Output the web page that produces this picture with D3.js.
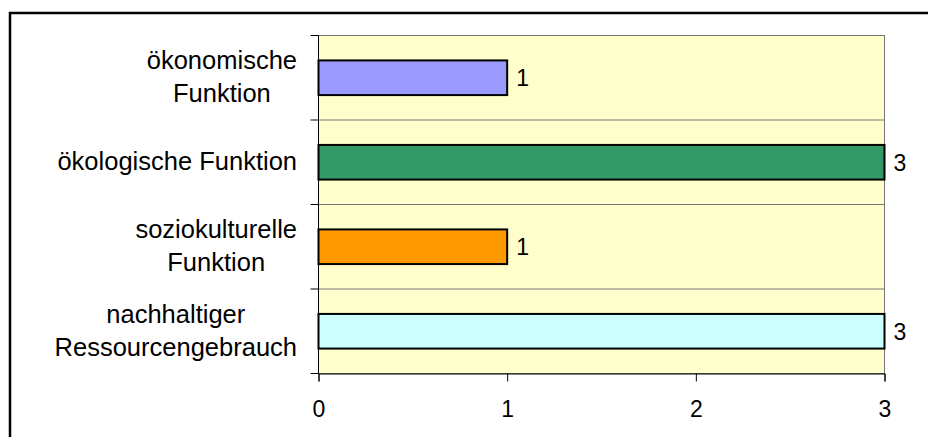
<!DOCTYPE html>
<html>
<head>
<meta charset="utf-8">
<script src="https://cdn.jsdelivr.net/npm/d3@7"></script>
<style>
	body { margin:0; background:#fff; }
	text { font-family:"Liberation Sans", Arial, sans-serif; fill:#000; }
</style>
</head>
<body>
<svg id="chart" width="928" height="437"></svg>
<script>
// categories top to bottom, each label split in lines
let categories = ['ökonomische Funktion', 'ökologische Funktion', 'soziokulturelle Funktion', 'nachhaltiger Ressourcengebrauch'];
let labelLines = [['ökonomische', 'Funktion'], ['ökologische Funktion'], ['soziokulturelle', 'Funktion'], ['nachhaltiger', 'Ressourcengebrauch']];
let values = [1, 3, 1, 3];
let barColors = ['#9999FF', '#339966', '#FF9900', '#CCFFFF'];
let xTicks = [0, 1, 2, 3];

let svg = d3.select('#chart');
let plot = {left:318.5, right:884.5, top:35.5, bottom:373.5};
let fontSize = 25.5;

//outer frame (runs past the bottom and right edges)
svg.append('rect')
	.attr('x', 10).attr('y', 13)
	.attr('width', 940).attr('height', 450)
	.style('fill', 'none')
	.style('stroke', 'black')
	.style('stroke-width', 2.5);

let x = d3.scaleLinear().domain([0, 3]).range([plot.left, plot.right]);
let y = d3.scaleBand().domain(categories).range([plot.top, plot.bottom])
	.paddingInner(0.59).paddingOuter(0.295);
let step = y.step();
let bandTop = (c) => y(c) - step*y.paddingInner()/2;

//plot background
svg.append('rect')
	.attr('x', plot.left).attr('y', plot.top)
	.attr('width', plot.right-plot.left).attr('height', plot.bottom-plot.top)
	.style('fill', '#FFFFCC')
	.style('stroke', '#777')
	.style('stroke-width', 1);

//horizontal separators between categories + left ticks
let seps = categories.map(bandTop).concat([plot.bottom]);
svg.selectAll('.sep')
	.data(seps)
	.enter()
	.append('line')
	.attr('x1', plot.left).attr('x2', plot.right)
	.attr('y1', d => d).attr('y2', d => d)
	.style('stroke', '#777')
	.style('stroke-width', 1);
svg.selectAll('.ltick')
	.data(seps)
	.enter()
	.append('line')
	.attr('x1', plot.left-8).attr('x2', plot.left)
	.attr('y1', d => d).attr('y2', d => d)
	.style('stroke', '#000')
	.style('stroke-width', 1);

//bars
svg.selectAll('.bar')
	.data(values)
	.enter()
	.append('rect')
	.attr('x', x(0))
	.attr('y', (d,i) => y(categories[i]))
	.attr('width', d => x(d)-x(0))
	.attr('height', y.bandwidth())
	.style('fill', (d,i) => barColors[i])
	.style('stroke', '#000')
	.style('stroke-width', 2);

//value labels
let smallSize = 23;
svg.selectAll('.val')
	.data(values)
	.enter()
	.append('text')
	.attr('x', d => x(d)+9)
	.attr('y', (d,i) => y(categories[i]) + y.bandwidth()/2 + 0.36*smallSize)
	.style('font-size', smallSize+'px')
	.text(d => d);

//category labels
let lineH = 33;
labelLines.forEach((lines, i) => {
	let cy = y(categories[i]) + y.bandwidth()/2;
	let t = svg.append('text')
		.attr('text-anchor', 'middle')
		.style('font-size', fontSize+'px');
	let spans = lines.map((l, j) => t.append('tspan')
		.attr('x', 0)
		.attr('y', cy + 8 + (j-(lines.length-1)/2)*lineH)
		.text(l));
	//right align the block, center lines inside it
	let w = d3.max(spans, s => s.node().getComputedTextLength());
	spans.forEach(s => s.attr('x', 297 - w/2));
});

//x axis
let xAxis = svg.append('g')
	.attr('transform', 'translate(0,'+plot.bottom+')')
	.call(d3.axisBottom(x).tickValues(xTicks).tickFormat(d3.format('d')).tickSizeOuter(0).tickSize(8).tickPadding(19));
xAxis.select('.domain').style('stroke', '#000');
xAxis.selectAll('text').style('font-size', smallSize+'px').attr('font-family', null);

//y axis line
svg.append('line')
	.attr('x1', plot.left).attr('x2', plot.left)
	.attr('y1', plot.top).attr('y2', plot.bottom)
	.style('stroke', '#000');
</script>
</body>
</html>
